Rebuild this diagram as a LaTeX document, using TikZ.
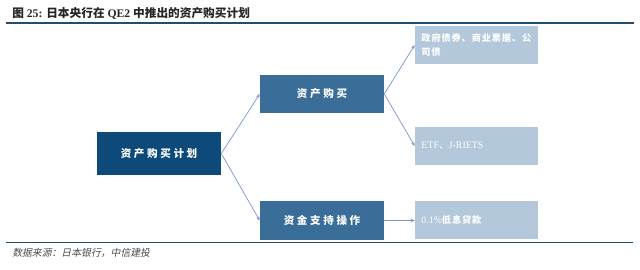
\documentclass[tikz,border=0pt]{standalone}
\usepackage{fontspec}
\setmainfont{Liberation Serif}
\newfontfamily\cjk{Noto Sans CJK SC}
\newfontfamily\cjkwide[LetterSpace=25]{Noto Sans CJK SC}
\newfontfamily\cjkslant[FakeSlant=0.2]{Noto Sans CJK SC}
\usepackage{xcolor}
\usepackage{tikz}
\usetikzlibrary{
  arrows.meta,
  positioning,
}

\definecolor{navy}{HTML}{0D4A79}
\definecolor{steel}{HTML}{3A6E98}
\definecolor{pale}{HTML}{B3C8DA}
\definecolor{rule}{HTML}{1F4E6E}
\definecolor{link}{HTML}{7A94D0}

\begin{document}
\begin{tikzpicture}[
  x=0.025cm, y=-0.025cm,
  every node/.style={align=center, inner sep=0pt},
  planbox/.style={fill=navy, text=white, minimum width=3.1cm,
                  minimum height=1.075cm, font=\cjkwide\bfseries\fontsize{7.5}{10}\selectfont},
  midbox/.style={fill=steel, text=white, minimum width=3.1cm,
                 minimum height=0.96cm, font=\cjkwide\bfseries\fontsize{7.5}{10}\selectfont},
  leafbox/.style={fill=pale, text=white, minimum width=3.075cm,
                  minimum height=0.95cm, text width=2.75cm, align=left,
                  font=\fontsize{7}{10}\selectfont},
  arrow/.style={-{Stealth[length=3pt, width=2.5pt]}, draw=link, line width=0.5pt},
]

\useasboundingbox (0,0) rectangle (640,270);

% title and rules
\node[anchor=west, font=\bfseries\fontsize{8.3}{10}\selectfont, text=black!85] (title) at (12,13)
  {{\cjk 图} 25: {\cjk 日本央行在} QE2 {\cjk 中推出的资产购买计划}};
\draw[rule, line width=1.4pt] (6,23) -- (634,23);
\draw[rule, line width=1.2pt] (6,242.5) -- (633,242.5);
\node[anchor=west, font=\cjkslant\fontsize{7}{9}\selectfont, text=black!70] (source) at (12,253)
  {数据来源：日本银行，中信建投};

% boxes
\node[planbox] (plan) at (159,153.5) {资产购买计划};
\node[midbox] (buy) at (322,94) {资产购买};
\node[midbox] (fund) at (322,220.5) {资金支持操作};

\node[leafbox] (bonds) at (476.5,45)
  {{\cjk\bfseries\addfontfeature{LetterSpace=10}\fontsize{6.5}{9}\selectfont 政府债券、商业票据、公\\司债}};
\node[leafbox] (etf) at (476.5,146) {ETF{\cjk 、}J-RIETS};
\node[leafbox] (loan) at (476.5,220)
  {0.1\%{\cjk\bfseries\addfontfeature{LetterSpace=10}\fontsize{6.5}{9}\selectfont 低息贷款}};

% connectors
\draw[arrow] (plan.east) -- (buy.west);
\draw[arrow] (plan.east) -- (fund.west);
\draw[arrow] (buy.east) -- (bonds.west);
\draw[arrow] (buy.east) -- (etf.west);
\draw[arrow] (fund.east) -- (fund.east -| loan.west);

\end{tikzpicture}
\end{document}
